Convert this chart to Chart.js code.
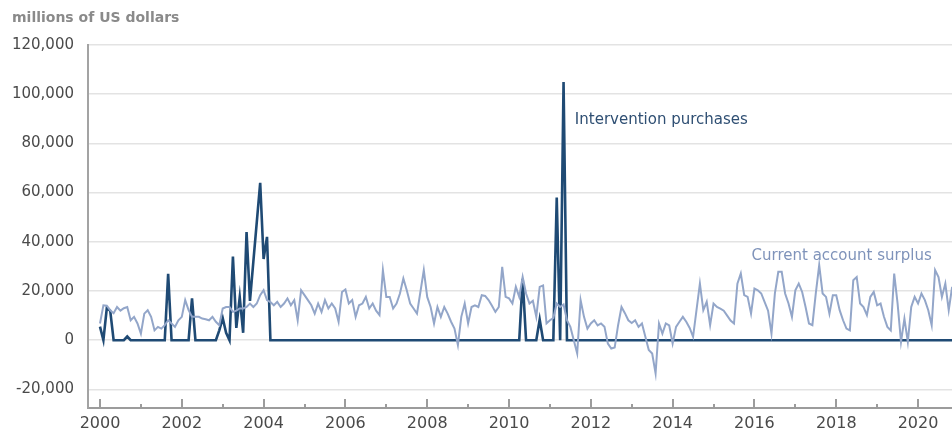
<!DOCTYPE html>
<html>
<head>
<meta charset="utf-8">
<script src="https://cdn.jsdelivr.net/npm/chart.js@4/dist/chart.umd.min.js"></script>
<style>
html,body{margin:0;padding:0;background:#ffffff;}
#wrap{position:relative;width:952px;height:432px;}
</style>
</head>
<body>
<div id="wrap"><canvas id="c" width="952" height="432"></canvas></div>
<script>
// ---- data (millions of US dollars, monthly from Jan 2000) ----
const startYear = 2000;
const currentAccountSurplus = [
  6800,14200,14000,12200,11000,13500,12000,13000,13500,8100,9500,6800,      // 2000
  2700,10800,12200,9500,4000,5400,4700,6100,8100,6800,5400,8100,            // 2001
  9500,16300,12200,9500,9500,9500,8800,8500,8100,9500,7500,6100,            // 2002
  12900,13500,13500,11500,12000,12900,12900,13500,14900,13500,14900,18300,  // 2003
  20300,16300,15500,14200,15600,13500,14900,17000,14200,16300,8100,20300,   // 2004
  18300,16300,14200,10800,14900,11500,16300,12900,14900,12900,7500,19600,   // 2005
  20600,14900,16300,9500,14200,14900,17600,12900,14900,12000,10200,28500,   // 2006
  17600,17600,12900,14900,19000,25100,20300,14900,12900,10800,19600,28500,  // 2007
  17600,13500,6800,13500,9500,13500,10800,7500,4700,-2000,9500,14900,       // 2008
  6800,13500,14200,13500,18300,18000,16300,14000,11500,13500,29800,17600,   // 2009
  17000,14900,21700,17600,25700,19000,14900,16000,9500,21700,22300,6800,    // 2010
  8100,9000,14900,13500,14500,8100,5400,0,-5400,16300,9500,4700,            // 2011
  6800,8100,6000,6800,5500,-1400,-3400,-3000,6100,13500,11000,8100,         // 2012
  7000,8100,5400,6800,1400,-4000,-5400,-13500,6800,2700,6800,6000,          // 2013
  -1400,5400,7500,9500,7500,5000,1400,12200,23000,12200,15600,6100,         // 2014
  14900,13500,12800,12000,10000,8000,6800,23000,27100,18300,17600,10800,    // 2015
  21000,20300,19000,15500,12000,2700,19000,27800,27800,19000,14900,9500,    // 2016
  20300,23000,19600,13500,6800,6100,19000,30500,19000,17600,10800,18300,    // 2017
  18300,12200,8100,4700,4000,24400,25700,14900,13500,10200,17600,19600,     // 2018
  14200,14900,9500,5400,4000,27100,14900,-700,8800,-700,13500,17600,        // 2019
  14900,19000,16300,12200,6100,28500,25700,17600,23000,12200,21700          // 2020
];
const interventionPurchases = [
  5500,0,13000,12000,0,0,0,0,1500,0,0,0,                                    // 2000
  0,0,0,0,0,0,0,0,27000,0,0,0,                                              // 2001
  0,0,0,17000,0,0,0,0,0,0,0,4000,                                           // 2002
  9000,3000,0,34000,5000,17500,3000,44000,16000,32000,48000,64000,          // 2003
  33000,42000,0,0,0,0,0,0,0,0,0,0,                                          // 2004
  0,0,0,0,0,0,0,0,0,0,0,0,                                                  // 2005
  0,0,0,0,0,0,0,0,0,0,0,0,                                                  // 2006
  0,0,0,0,0,0,0,0,0,0,0,0,                                                  // 2007
  0,0,0,0,0,0,0,0,0,0,0,0,                                                  // 2008
  0,0,0,0,0,0,0,0,0,0,0,0,                                                  // 2009
  0,0,0,0,25000,0,0,0,0,8400,0,0,                                           // 2010
  0,0,58000,0,105000,0,0,0,0,0,0,0,                                         // 2011
  0,0,0,0,0,0,0,0,0,0,0,0,                                                  // 2012
  0,0,0,0,0,0,0,0,0,0,0,0,                                                  // 2013
  0,0,0,0,0,0,0,0,0,0,0,0,                                                  // 2014
  0,0,0,0,0,0,0,0,0,0,0,0,                                                  // 2015
  0,0,0,0,0,0,0,0,0,0,0,0,                                                  // 2016
  0,0,0,0,0,0,0,0,0,0,0,0,                                                  // 2017
  0,0,0,0,0,0,0,0,0,0,0,0,                                                  // 2018
  0,0,0,0,0,0,0,0,0,0,0,0,                                                  // 2019
  0,0,0,0,0,0,0,0,0,0,0                                                     // 2020
];
const yTicks = [-20000, 0, 20000, 40000, 60000, 80000, 100000, 120000];
const xTickYears = [2000,2001,2002,2003,2004,2005,2006,2007,2008,2009,2010,2011,2012,2013,2014,2015,2016,2017,2018,2019,2020];
const xLabelYears = [2000,2002,2004,2006,2008,2010,2012,2014,2016,2018,2020];
const unitLabel = 'millions of US dollars';
const seriesLabels = { intervention: 'Intervention purchases', surplus: 'Current account surplus' };

// monthly x positions (decimal years)
const months = currentAccountSurplus.map((_, i) => startYear + i / 12);
const toPoints = arr => arr.map((v, i) => ({ x: months[i], y: v }));

const DARK = '#1f4a74';
const LIGHT = '#93a6c9';

const extras = {
  id: 'extras',
  beforeDatasetsDraw(chart) {
    const { ctx, scales: { x }, chartArea } = chart;
    ctx.save();
    ctx.strokeStyle = '#9c9c9c';
    ctx.lineWidth = 2;
    xTickYears.forEach(yr => {
      const px = Math.round(x.getPixelForValue(yr));
      const len = xLabelYears.includes(yr) ? 9 : 4;
      ctx.beginPath();
      ctx.moveTo(px, chartArea.bottom);
      ctx.lineTo(px, chartArea.bottom - len);
      ctx.stroke();
    });
    ctx.restore();
  },
  afterDraw(chart) {
    const { ctx, scales: { x, y } } = chart;
    ctx.save();
    ctx.textBaseline = 'alphabetic';
    ctx.textAlign = 'left';
    ctx.fillStyle = '#8a8a8a';
    ctx.font = 'bold 14px "DejaVu Sans"';
    ctx.fillText(unitLabel, 12, 22);
    ctx.font = '15px "DejaVu Sans"';
    ctx.fillStyle = '#2f4f73';
    ctx.fillText(seriesLabels.intervention, x.getPixelForValue(2011.61), y.getPixelForValue(88000));
    ctx.fillStyle = '#7f93ba';
    ctx.fillText(seriesLabels.surplus, x.getPixelForValue(2015.93), y.getPixelForValue(32800));
    ctx.restore();
  }
};

new Chart(document.getElementById('c'), {
  type: 'line',
  data: {
    datasets: [
      { label: seriesLabels.surplus, data: toPoints(currentAccountSurplus), borderColor: LIGHT, borderWidth: 2, pointRadius: 0, tension: 0, fill: false },
      { label: seriesLabels.intervention, data: toPoints(interventionPurchases), borderColor: DARK, borderWidth: 2.6, pointRadius: 0, tension: 0, fill: false }
    ]
  },
  options: {
    responsive: false,
    animation: false,
    devicePixelRatio: 1,
    layout: { padding: { top: 45, left: 0, right: 0, bottom: 0 }, autoPadding: false },
    plugins: { legend: { display: false }, tooltip: { enabled: false }, title: { display: false } },
    scales: {
      x: {
        type: 'linear',
        min: 1999.707,
        max: 2020.83,
        afterBuildTicks: s => { s.ticks = xTickYears.map(v => ({ value: v })); },
        afterFit: s => { s.height = 24; },
        grid: { display: false, drawTicks: false },
        border: { display: true, color: '#9c9c9c', width: 2 },
        ticks: {
          autoSkip: false, maxRotation: 0, padding: 6,
          color: '#4a4a4a',
          font: { family: 'DejaVu Sans', size: 16 },
          callback: v => xLabelYears.includes(v) ? String(v) : ''
        }
      },
      y: {
        min: -27560,
        max: 120000,
        afterBuildTicks: s => { s.ticks = yTicks.map(v => ({ value: v })); },
        afterFit: s => { s.width = 88; },
        grid: { color: '#e3e3e3', lineWidth: 1.5, drawTicks: false },
        border: { display: true, color: '#a3a3a3', width: 2 },
        ticks: {
          padding: 14,
          color: '#4a4a4a',
          font: { family: 'DejaVu Sans', size: 15 },
          callback: v => v.toLocaleString('en-US')
        }
      }
    }
  },
  plugins: [extras]
});
</script>
</body>
</html>
